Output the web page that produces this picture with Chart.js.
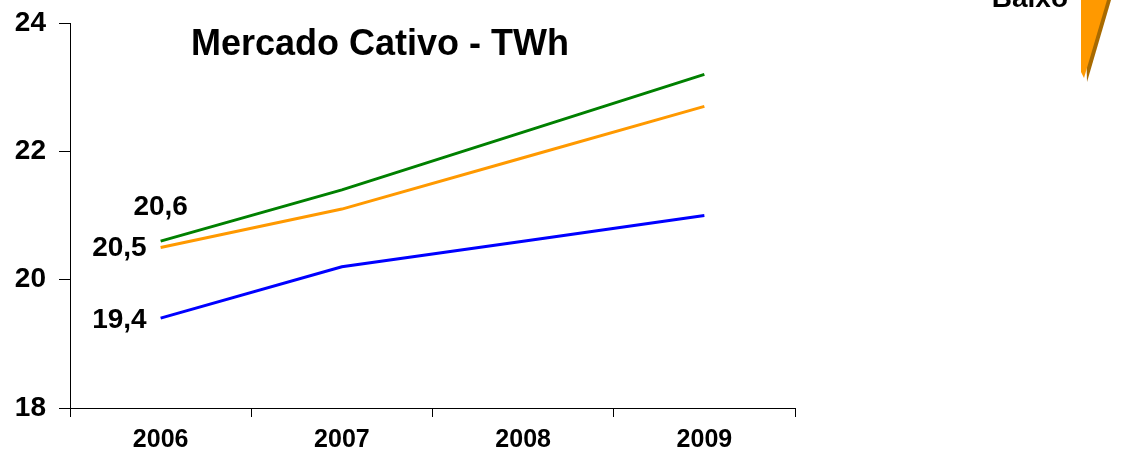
<!DOCTYPE html>
<html>
<head>
<meta charset="utf-8">
<script src="https://cdn.jsdelivr.net/npm/chart.js@4.4.0/dist/chart.umd.min.js"></script>
<style>
  html, body { margin: 0; padding: 0; background: #fff; }
  #wrap { width: 1128px; height: 467px; position: relative; }
</style>
</head>
<body>
<div id="wrap"><canvas id="chart" width="1128" height="467"></canvas></div>
<script>
// Dados do gráfico
const anos = ['2006', '2007', '2008', '2009'];
const serieVerde = [20.6, 21.4, 22.3, 23.2];
const serieLaranja = [20.5, 21.1, 21.9, 22.7];
const serieAzul = [19.4, 20.2, 20.6, 21.0];
const ticksY = [18, 20, 22, 24];

const FONTE = "Arial, 'Liberation Sans', sans-serif";

// Rótulos do primeiro ponto + título + seta do canto
const extras = {
    id: 'extras',
    afterDatasetsDraw(chart) {
        const ctx = chart.ctx;
        ctx.save();
        ctx.fillStyle = '#000';
        ctx.font = 'bold 28px ' + FONTE;
        ctx.textBaseline = 'middle';

        const fmt = v => v.toFixed(1).replace('.', ',');
        const pVerde = chart.getDatasetMeta(0).data[0];
        const pLaranja = chart.getDatasetMeta(1).data[0];
        const pAzul = chart.getDatasetMeta(2).data[0];

        ctx.textAlign = 'center';
        ctx.fillText(fmt(serieVerde[0]), pVerde.x, pVerde.y - 34);
        ctx.textAlign = 'right';
        ctx.fillText(fmt(serieLaranja[0]), pLaranja.x - 14, pLaranja.y + 1);
        ctx.fillText(fmt(serieAzul[0]), pAzul.x - 14, pAzul.y + 2);

        // título
        ctx.textAlign = 'center';
        ctx.font = 'bold 36px ' + FONTE;
        ctx.fillText('Mercado Cativo - TWh', 380, 45);

        // texto cortado no topo
        ctx.font = 'bold 28px ' + FONTE;
        ctx.textAlign = 'right';
        ctx.textBaseline = 'alphabetic';
        ctx.fillText('Baixo', 1068, 7);

        // seta laranja (sombra + corpo)
        ctx.fillStyle = '#a86a00';
        ctx.beginPath();
        ctx.moveTo(1085, 0);
        ctx.lineTo(1111, 0);
        ctx.lineTo(1087, 82);
        ctx.closePath();
        ctx.fill();
        ctx.fillStyle = '#ff9900';
        ctx.beginPath();
        ctx.moveTo(1081, 0);
        ctx.lineTo(1107, 0);
        ctx.lineTo(1084, 78);
        ctx.lineTo(1081, 72);
        ctx.closePath();
        ctx.fill();
        ctx.restore();
    }
};

new Chart(document.getElementById('chart').getContext('2d'), {
    type: 'line',
    data: {
        labels: anos,
        datasets: [
            { data: serieVerde, borderColor: '#008000', borderWidth: 3, pointRadius: 0, tension: 0 },
            { data: serieLaranja, borderColor: '#ff9900', borderWidth: 3, pointRadius: 0, tension: 0 },
            { data: serieAzul, borderColor: '#0000ff', borderWidth: 3, pointRadius: 0, tension: 0 }
        ]
    },
    options: {
        responsive: false,
        animation: false,
        layout: { padding: { top: 23, right: 333, left: 0, bottom: 0 } },
        plugins: { legend: { display: false }, tooltip: { enabled: false } },
        scales: {
            x: {
                offset: true,
                grid: { offset: true, drawOnChartArea: false, tickLength: 9, color: '#000', tickColor: '#000' },
                border: { color: '#000', width: 1 },
                ticks: { color: '#000', font: { family: FONTE, size: 25, weight: 'bold' }, padding: 8 },
                afterFit(scale) { scale.height = 59; }
            },
            y: {
                min: 18,
                max: 24,
                afterBuildTicks(scale) { scale.ticks = ticksY.map(v => ({ value: v })); },
                grid: { drawOnChartArea: false, tickLength: 11, color: '#000', tickColor: '#000' },
                border: { color: '#000', width: 1 },
                ticks: { color: '#000', font: { family: FONTE, size: 28, weight: 'bold', lineHeight: 0.8 }, padding: 13 },
                afterFit(scale) {
                    scale.width = 70;
                    scale.paddingTop = 0;
                    scale.paddingBottom = 0;
                }
            }
        }
    },
    plugins: [extras]
});
</script>
</body>
</html>
